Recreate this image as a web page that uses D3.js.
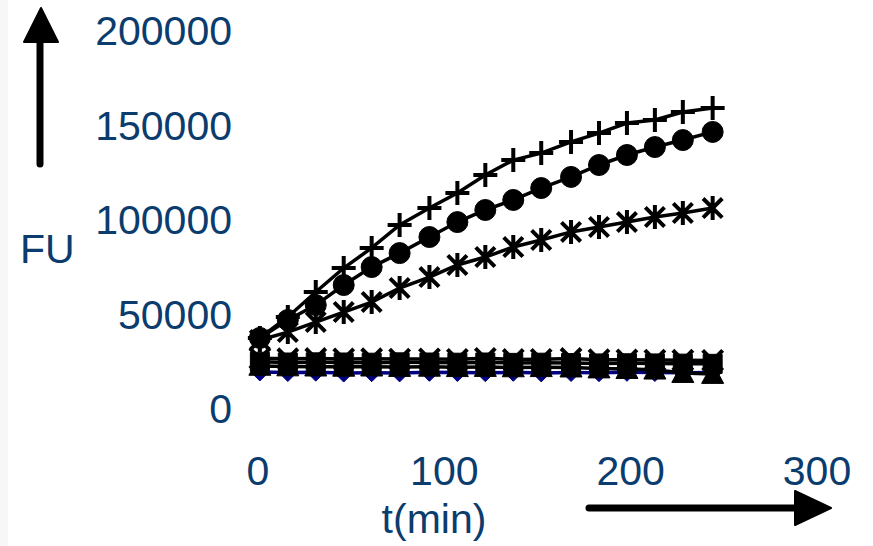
<!DOCTYPE html>
<html><head><meta charset="utf-8">
<script src="https://cdn.jsdelivr.net/npm/d3@7"></script>
<style>body{margin:0;background:#fff} svg{display:block}</style>
</head><body><svg id="c" width="873" height="546"></svg>
<script>
// ---- data ----
const time = [1,16,31,46,61,76,92,107,122,137,152,168,183,198,213,228,244];
const seriesDiamond  = [19600,19300,19500,19000,19200,19100,19400,19300,19200,19400,19100,19300,19200,19400,19300,19200,19300];
const seriesSquare   = [25000,24600,24700,24600,24500,24700,24600,24500,24600,24400,24500,24300,24100,24200,24100,24000,23900];
const seriesTriangle = [22800,22500,22400,22300,22400,22200,22300,22100,22200,22000,22100,21900,21400,21100,20800,19000,18500];
const seriesX        = [26800,26600,26700,26500,26600,26400,26500,26300,26800,26200,26300,26700,26100,26000,25900,25800,25700];
const seriesAsterisk = [36500,40700,46000,51300,56600,64000,69800,76200,80400,85700,89400,93700,96300,98900,101600,103700,106300];
const seriesCircle   = [37600,47100,55000,65600,75100,82500,91000,98900,105300,110600,116900,122800,129100,134400,138600,142300,146600];
const seriesPlus     = [37600,48700,61900,74600,85200,97400,106300,114300,123800,131700,135400,141300,146000,151300,152900,157100,159300];
const yTicks = [0,50000,100000,150000,200000];
const xTicks = [0,100,200,300];
const yTitle = "FU";
const xTitle = "t(min)";

const svg = d3.select("#c");
const W = 873, H = 546;
svg.append("rect").attr("width",W).attr("height",H).attr("fill","#fff");
svg.append("rect").attr("x",0).attr("y",0).attr("width",8).attr("height",H).attr("fill","#f7f7f7");

const x = d3.scaleLinear().domain([0,300]).range([258,817]);
const y = d3.scaleLinear().domain([0,200000]).range([409,31]);
const labelColor = "#0b3c6e";
const font = "'Liberation Sans', Arial, sans-serif";

// tick labels
svg.append("g").selectAll("text").data(yTicks).join("text")
  .attr("x",232).attr("y",d=>y(d)).attr("dy","0.35em")
  .attr("text-anchor","end").attr("font-family",font).attr("font-size",41)
  .attr("fill",labelColor).text(d=>d);
svg.append("g").selectAll("text").data(xTicks).join("text")
  .attr("x",d=>x(d)).attr("y",485)
  .attr("text-anchor","middle").attr("font-family",font).attr("font-size",41)
  .attr("fill",labelColor).text(d=>d);
svg.append("text").attr("x",20).attr("y",263).attr("font-family",font).attr("font-size",41)
  .attr("fill",labelColor).text(yTitle);
svg.append("text").attr("x",434).attr("y",533).attr("text-anchor","middle").attr("font-family",font).attr("font-size",41)
  .attr("fill",labelColor).text(xTitle);

// arrows
svg.append("line").attr("x1",40).attr("y1",164).attr("x2",40).attr("y2",38)
  .attr("stroke","#000").attr("stroke-width",7).attr("stroke-linecap","round");
svg.append("path").attr("d","M24,42 L41,8 L58,42 Z").attr("fill","#000").attr("stroke","#000").attr("stroke-width",2).attr("stroke-linejoin","round");
svg.append("line").attr("x1",589).attr("y1",508).attr("x2",798).attr("y2",508)
  .attr("stroke","#000").attr("stroke-width",7).attr("stroke-linecap","round");
svg.append("path").attr("d","M795,491 L831,508 L795,525 Z").attr("fill","#000").attr("stroke","#000").attr("stroke-width",2).attr("stroke-linejoin","round");

// markers
const markers = {
  diamond: s=>`M0,${-s}L${s},0L0,${s}L${-s},0Z`,
  square: s=>`M${-s},${-s}H${s}V${s}H${-s}Z`,
  triangle: s=>`M0,${-s}L${s},${s*0.85}L${-s},${s*0.85}Z`,
  x: s=>`M${-s},${-s}L${s},${s}M${s},${-s}L${-s},${s}`,
  asterisk: s=>`M${-s*0.8},${-s*0.8}L${s*0.8},${s*0.8}M${s*0.8},${-s*0.8}L${-s*0.8},${s*0.8}M0,${-s}V${s}`,
  circle: s=>`M${s},0A${s},${s},0,1,1,${-s},0A${s},${s},0,1,1,${s},0Z`,
  plus: s=>`M${-s},0H${s}M0,${-s}V${s}`
};
const series = [
  {vals:seriesDiamond, color:"#000080", m:"diamond", s:9, fill:true},
  {vals:seriesSquare, color:"#000", m:"square", s:9.5, fill:true},
  {vals:seriesTriangle, color:"#000", m:"triangle", s:11, fill:true},
  {vals:seriesX, color:"#000", m:"x", s:10, fill:false},
  {vals:seriesAsterisk, color:"#000", m:"asterisk", s:12, fill:false},
  {vals:seriesCircle, color:"#000", m:"circle", s:10.5, fill:true},
  {vals:seriesPlus, color:"#000", m:"plus", s:12, fill:false}
];
const line = d3.line().x(d=>x(d[0])).y(d=>y(d[1]));
series.forEach(sr=>{
  const pts = time.map((t,i)=>[t,sr.vals[i]]);
  const g = svg.append("g");
  g.append("path").attr("d",line(pts)).attr("fill","none").attr("stroke",sr.color).attr("stroke-width",3.5);
  g.selectAll("path.m").data(pts).join("path").attr("class","m")
    .attr("transform",d=>`translate(${x(d[0])},${y(d[1])})`)
    .attr("d",markers[sr.m](sr.s))
    .attr("fill",sr.fill?sr.color:"none")
    .attr("stroke",sr.color).attr("stroke-width",sr.fill?1:4);
});
</script></body></html>
